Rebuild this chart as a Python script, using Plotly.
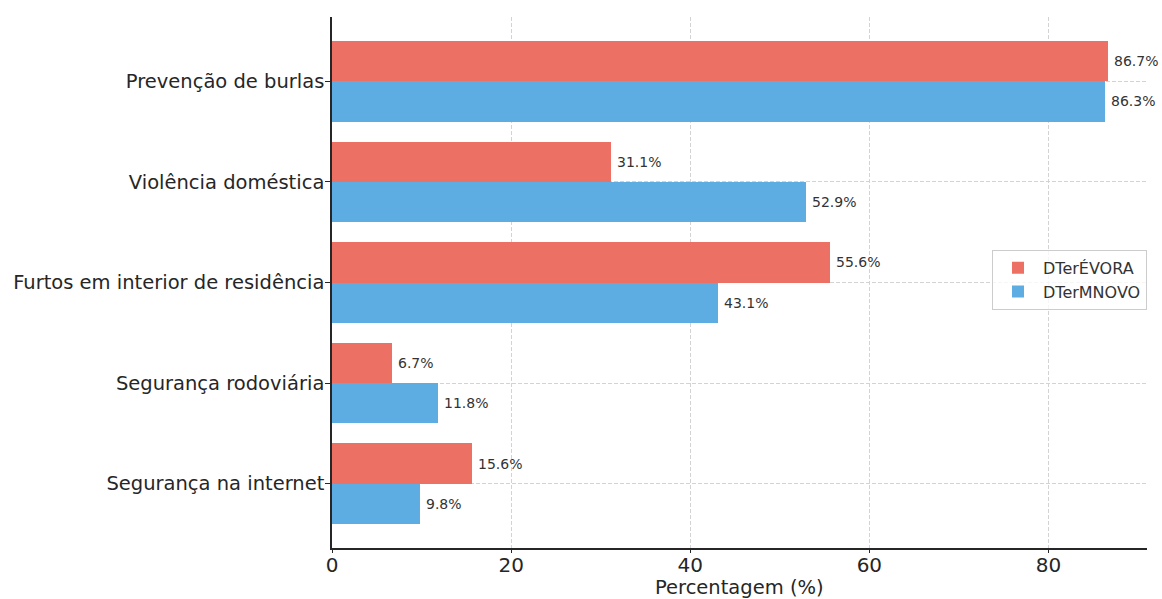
import plotly.graph_objects as go

categories = ["Segurança na internet", "Segurança rodoviária", "Furtos em interior de residência",
              "Violência doméstica", "Prevenção de burlas"]
evora = [15.6, 6.7, 55.6, 31.1, 86.7]
mnovo = [9.8, 11.8, 43.1, 52.9, 86.3]
series_names = ["DTerÉVORA", "DTerMNOVO"]
colors = ["#ec7063", "#5dade2"]
x_ticks = [0, 20, 40, 60, 80]
x_title = "Percentagem (%)"

pos = list(range(len(categories)))
bw = 0.4
font = "DejaVu Sans"

fig = go.Figure()
for name, vals, col, off in [(series_names[0], evora, colors[0], bw / 2),
                             (series_names[1], mnovo, colors[1], -bw / 2)]:
    fig.add_trace(go.Bar(
        x=vals, y=[p + off for p in pos], orientation="h", width=bw,
        marker=dict(color=col, line=dict(width=0)), name=name,
    ))
    for v, p in zip(vals, pos):
        fig.add_annotation(x=v, y=p + off, text=f"{v:.1f}%", showarrow=False,
                           xanchor="left", xshift=4,
                           font=dict(family=font, size=14, color="#333333"))

fig.add_annotation(x=0.5, y=-0.0745, xref="paper", yref="paper", text=x_title,
                   showarrow=False, xanchor="center", yanchor="middle",
                   font=dict(family=font, size=19.5, color="#262626"))

fig.update_layout(
    width=1162, height=599,
    margin=dict(l=332, r=15, t=17, b=51, autoexpand=False),
    plot_bgcolor="white", paper_bgcolor="white",
    font=dict(family=font, color="#262626"),
    bargap=0,
    showlegend=True,
    legend=dict(x=1, xanchor="right", y=0.505, yanchor="middle",
                bordercolor="#cccccc", borderwidth=1, bgcolor="rgba(255,255,255,0.8)",
                font=dict(family=font, size=16, color="#333333"),
                traceorder="normal", itemwidth=40),
)
fig.update_xaxes(
    range=[0, 91.0], tickvals=x_ticks, ticktext=[str(t) for t in x_ticks],
    showgrid=True, gridcolor="#d3d3d3", griddash="4px,2px", gridwidth=1,
    showline=True, linecolor="#262626", linewidth=1.5,
    ticks="outside", ticklen=3, tickcolor="#262626", ticklabelstandoff=-5,
    tickfont=dict(family=font, size=20, color="#262626"),
    zeroline=False, automargin=False,
)
fig.update_yaxes(
    range=[-0.64, 4.64], tickvals=pos, ticktext=categories,
    showgrid=True, gridcolor="#d3d3d3", griddash="4px,2px", gridwidth=1,
    showline=True, linecolor="#262626", linewidth=1.5,
    ticks="outside", ticklen=5, tickcolor="#262626", ticklabelstandoff=-3,
    tickfont=dict(family=font, size=19.5, color="#262626"),
    zeroline=False, automargin=False,
)

fig.write_html("out.html")
